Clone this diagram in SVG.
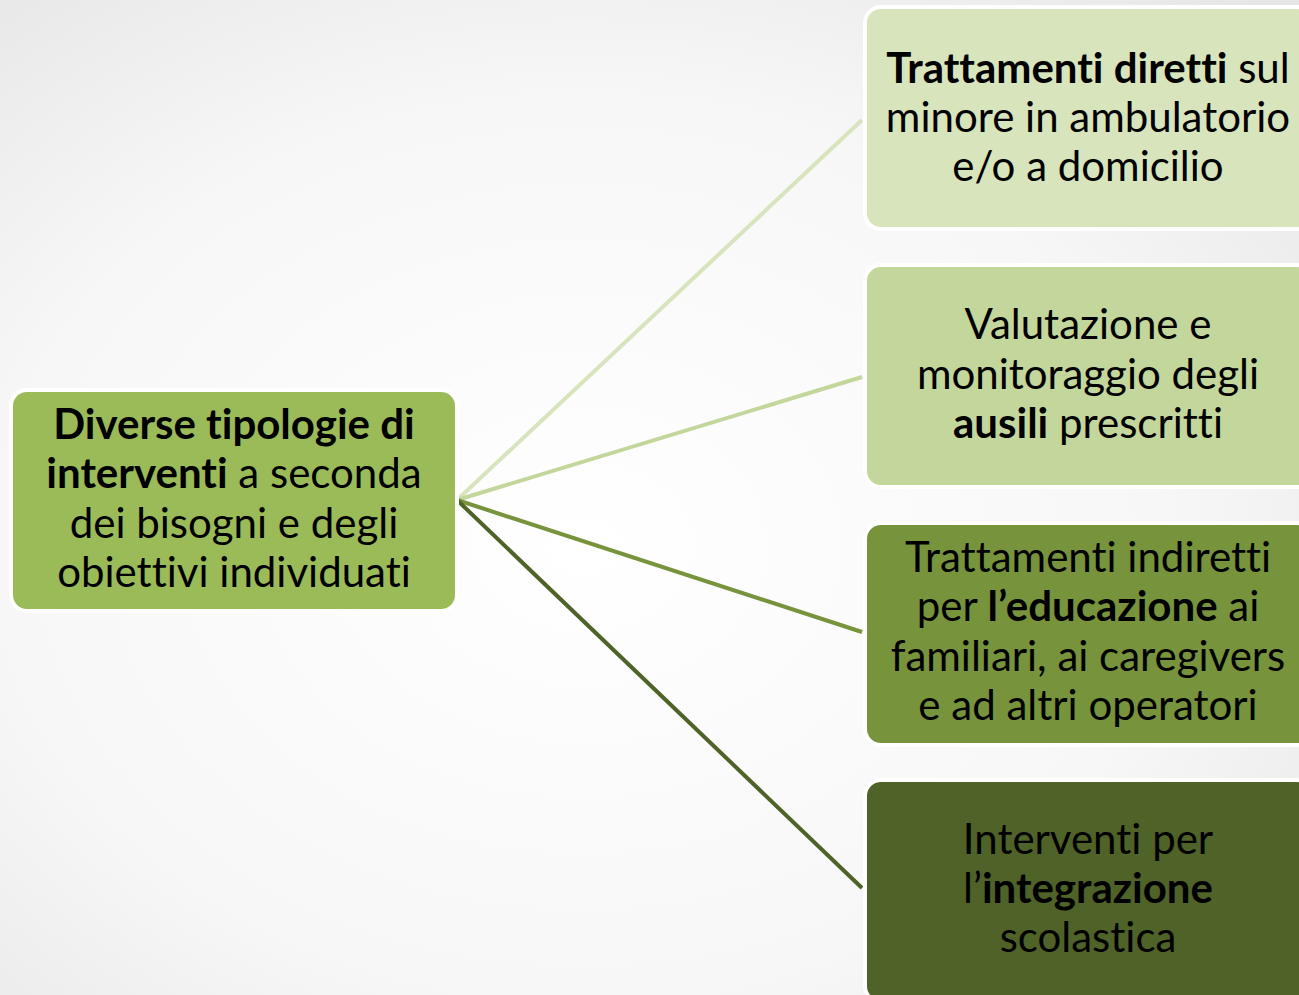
<svg xmlns="http://www.w3.org/2000/svg" width="1299" height="995" viewBox="0 0 1299 995">
<defs>
<radialGradient id="bg" cx="0.45" cy="0.55" r="0.75">
<stop offset="0" stop-color="#ffffff"/>
<stop offset="0.6" stop-color="#f7f7f7"/>
<stop offset="1" stop-color="#e6e6e6"/>
</radialGradient>
<style>
.box{stroke:#ffffff;stroke-width:4}
.t{font-family:Lato,"Open Sans","Liberation Sans",sans-serif;font-size:42px;fill:#000;text-anchor:middle;font-variant-ligatures:none;font-feature-settings:"liga" 0,"clig" 0}
.b{font-weight:bold}
.c{fill:none;stroke-width:4}
</style>
</defs>
<rect width="1299" height="995" fill="url(#bg)"/>
<g id="connectors">
<line class="c" x1="457" y1="500" x2="862" y2="120" stroke="#d7e4bd"/>
<line class="c" x1="457" y1="500" x2="862" y2="377" stroke="#c3d69b"/>
<line class="c" x1="457" y1="500" x2="862" y2="632" stroke="#77933c"/>
<line class="c" x1="457" y1="500" x2="862" y2="888" stroke="#4f6228"/>
</g>
<g id="center">
<rect class="box" x="11" y="390" width="446" height="221" rx="16" fill="#9bbb59"/>
<text class="t" x="234" y="439"><tspan class="b">Diverse tipologie di</tspan></text>
<text class="t" x="234" y="488"><tspan class="b">interventi</tspan> a seconda</text>
<text class="t" x="234" y="538">dei bisogni e degli</text>
<text class="t" x="234" y="587">obiettivi individuati</text>
</g>
<g id="n1">
<rect class="box" x="865" y="7" width="448" height="222" rx="16" fill="#d8e4bc"/>
<text class="t" x="1088" y="83"><tspan class="b">Trattamenti diretti</tspan> sul</text>
<text class="t" x="1088" y="132">minore in ambulatorio</text>
<text class="t" x="1088" y="181">e/o a domicilio</text>
</g>
<g id="n2">
<rect class="box" x="865" y="265" width="448" height="222" rx="16" fill="#c3d69b"/>
<text class="t" x="1088" y="339">Valutazione e</text>
<text class="t" x="1088" y="389">monitoraggio degli</text>
<text class="t" x="1088" y="438"><tspan class="b">ausili</tspan> prescritti</text>
</g>
<g id="n3">
<rect class="box" x="865" y="523" width="448" height="222" rx="16" fill="#77933c"/>
<text class="t" x="1088" y="572">Trattamenti indiretti</text>
<text class="t" x="1088" y="621">per <tspan class="b">l’educazione</tspan> ai</text>
<text class="t" x="1088" y="671">familiari, ai caregivers</text>
<text class="t" x="1088" y="720">e ad altri operatori</text>
</g>
<g id="n4">
<rect class="box" x="865" y="780" width="448" height="222" rx="16" fill="#4f6228"/>
<text class="t" x="1088" y="854">Interventi per</text>
<text class="t" x="1088" y="903">l’<tspan class="b">integrazione</tspan></text>
<text class="t" x="1088" y="952">scolastica</text>
</g>
</svg>
